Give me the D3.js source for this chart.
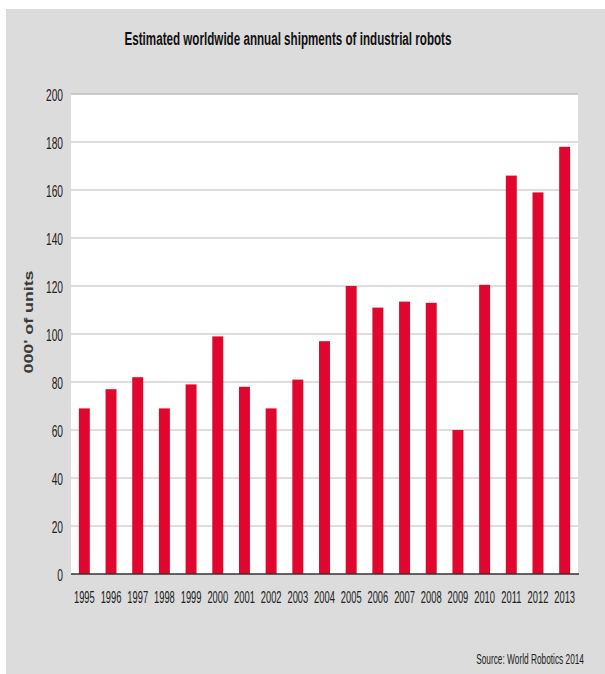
<!DOCTYPE html>
<html>
<head>
<meta charset="utf-8">
<script src="https://cdn.jsdelivr.net/npm/d3@7"></script>
<style>
  html, body { margin: 0; padding: 0; background: #ffffff; }
  svg { display: block; }
  text { font-family: "Liberation Sans", Arial, sans-serif; }
</style>
</head>
<body>
<svg id="chart" width="605" height="674"></svg>
<script>
// Annual shipments of industrial robots, thousands of units
const years = ["1995","1996","1997","1998","1999","2000","2001","2002","2003","2004",
               "2005","2006","2007","2008","2009","2010","2011","2012","2013"];
const shipments = [69, 77, 82, 69, 79, 99, 78, 69, 81, 97,
                   120, 111, 113.5, 113, 60, 120.5, 166, 159, 178];
const yTicks = [0, 20, 40, 60, 80, 100, 120, 140, 160, 180, 200];

const titleText = "Estimated worldwide annual shipments of industrial robots";
const yTitle = "000' of units";
const sourceText = "Source: World Robotics 2014";

const W = 605, H = 674;
const plot = { left: 71, right: 578, top: 94, bottom: 574 };

const svg = d3.select("#chart");

// Squeeze text horizontally (about its anchor x) to mimic a narrow typeface.
// k may be a factor or a function returning one from the natural width.
function condense(sel, k) {
  sel.each(function () {
    const w = this.getComputedTextLength();
    const f = typeof k === "function" ? k(w) : k;
    const ax = +this.getAttribute("x") || 0;
    const prev = this.getAttribute("transform") || "";
    this.setAttribute("transform",
      `${prev} translate(${ax * (1 - f)},0) scale(${f},1)`);
  });
}

// grey panel behind everything
svg.append("rect")
  .attr("x", 6).attr("y", 9)
  .attr("width", W - 6).attr("height", H - 9)
  .attr("fill", "#dcdcdc");

// white plotting area
svg.append("rect")
  .attr("x", plot.left).attr("y", plot.top)
  .attr("width", plot.right - plot.left).attr("height", plot.bottom - plot.top)
  .attr("fill", "#ffffff");

const x = d3.scaleBand()
  .domain(years)
  .range([plot.left, plot.right])
  .paddingInner(0.59)
  .paddingOuter(0.295);

const y = d3.scaleLinear()
  .domain([0, 200])
  .range([plot.bottom, plot.top]);

// horizontal gridlines
svg.append("g")
  .selectAll("line")
  .data(yTicks.filter(t => t > 0))
  .join("line")
  .attr("x1", plot.left).attr("x2", plot.right)
  .attr("y1", d => y(d)).attr("y2", d => y(d))
  .attr("stroke", d => d === 200 ? "#bdbdbd" : "#d2d2d2")
  .attr("stroke-width", 1.6);

// bars
svg.append("g")
  .selectAll("rect")
  .data(years.map((yr, i) => ({ yr, v: shipments[i] })))
  .join("rect")
  .attr("x", d => x(d.yr))
  .attr("width", x.bandwidth())
  .attr("y", d => y(d.v))
  .attr("height", d => y(0) - y(d.v))
  .attr("fill", "#e0062d");

// y axis (labels only)
const yAxis = d3.axisLeft(y).tickValues(yTicks).tickSize(0).tickPadding(8);
const gy = svg.append("g")
  .attr("transform", `translate(${plot.left},1)`)
  .call(yAxis);
gy.attr("font-family", null);
gy.select(".domain").remove();
gy.selectAll("text")
  .attr("font-size", 17)
  .attr("fill", "#222")
  .call(condense, 0.6);

// x axis with dark baseline
const xAxis = d3.axisBottom(x).tickSize(0).tickPadding(17);
const gx = svg.append("g")
  .attr("transform", `translate(0,${plot.bottom})`)
  .call(xAxis);
gx.attr("font-family", null);
gx.select(".domain")
  .attr("d", `M${plot.left},0H${plot.right + 1}`)
  .attr("stroke", "#333")
  .attr("stroke-width", 1.6);
gx.selectAll("text")
  .attr("font-size", 17)
  .attr("fill", "#222")
  .call(condense, 0.55);

// chart title
svg.append("text")
  .attr("x", 288).attr("y", 45)
  .attr("text-anchor", "middle")
  .attr("font-size", 19)
  .attr("font-weight", "bold")
  .attr("fill", "#111")
  .text(titleText)
  .call(condense, w => 327 / w);

// y axis title
svg.append("text")
  .attr("transform", `translate(33,322) rotate(-90)`)
  .attr("text-anchor", "middle")
  .attr("font-size", 12)
  .attr("font-weight", "bold")
  .attr("fill", "#3a3a3a")
  .attr("textLength", 103)
  .attr("lengthAdjust", "spacingAndGlyphs")
  .text(yTitle);

// source note
svg.append("text")
  .attr("x", 584).attr("y", 664)
  .attr("text-anchor", "end")
  .attr("font-size", 15)
  .attr("fill", "#222")
  .text(sourceText)
  .call(condense, w => 108 / w);
</script>
</body>
</html>
